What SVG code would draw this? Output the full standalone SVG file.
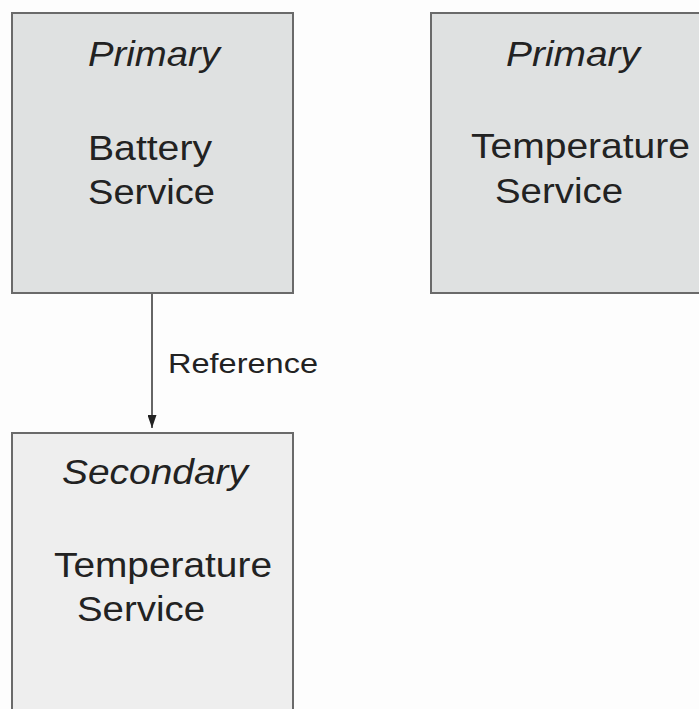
<svg xmlns="http://www.w3.org/2000/svg" width="699" height="709" viewBox="0 0 699 709">
  <style>
    .box { stroke: #6a6a6a; stroke-width: 2; }
    .primary { fill: #dfe1e1; }
    .secondary { fill: #eeeeee; }
    .t { font-family: "Liberation Sans", Arial, sans-serif; font-size: 34.5px; fill: #222222; }
    .i { font-style: italic; }
    .lbl { font-family: "Liberation Sans", Arial, sans-serif; font-size: 28px; fill: #222222; }
    .conn { stroke: #333333; stroke-width: 1.5; fill: none; }
  </style>
  <defs>
    <marker id="arrow" markerWidth="13" markerHeight="9" refX="13" refY="4.5" orient="auto" markerUnits="userSpaceOnUse" viewBox="0 0 13 9">
      <path d="M0,0 L13,4.5 L0,9 Z" fill="#222222"/>
    </marker>
  </defs>
  <rect x="0" y="0" width="699" height="709" fill="#fdfdfd"/>
  <g id="primary-battery">
    <rect class="box primary" x="12" y="13" width="281" height="280"/>
    <text class="t i" x="88" y="66" textLength="132" lengthAdjust="spacingAndGlyphs">Primary</text>
    <text class="t" x="88" y="160" textLength="124" lengthAdjust="spacingAndGlyphs">Battery</text>
    <text class="t" x="88" y="204" textLength="127" lengthAdjust="spacingAndGlyphs">Service</text>
  </g>
  <g id="primary-temperature">
    <rect class="box primary" x="431" y="13" width="280" height="280"/>
    <text class="t i" x="506" y="66" textLength="134" lengthAdjust="spacingAndGlyphs">Primary</text>
    <text class="t" x="471" y="158" textLength="219" lengthAdjust="spacingAndGlyphs">Temperature</text>
    <text class="t" x="495" y="203" textLength="128" lengthAdjust="spacingAndGlyphs">Service</text>
  </g>
  <g id="secondary-temperature">
    <rect class="box secondary" x="12" y="433" width="281" height="290"/>
    <text class="t i" x="62" y="484" textLength="186" lengthAdjust="spacingAndGlyphs">Secondary</text>
    <text class="t" x="54" y="577" textLength="218" lengthAdjust="spacingAndGlyphs">Temperature</text>
    <text class="t" x="77" y="621" textLength="128" lengthAdjust="spacingAndGlyphs">Service</text>
  </g>
  <g id="connectors">
    <line class="conn" x1="152" y1="294" x2="152" y2="428" marker-end="url(#arrow)"/>
    <text class="lbl" x="168" y="373" textLength="150" lengthAdjust="spacingAndGlyphs">Reference</text>
  </g>
</svg>
